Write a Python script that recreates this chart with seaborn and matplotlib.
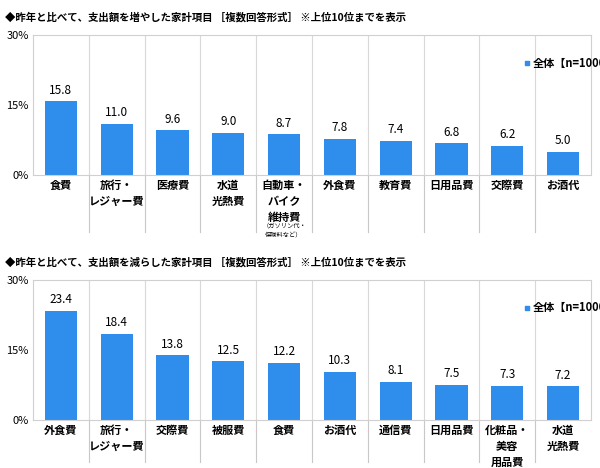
import matplotlib
matplotlib.use("Agg")
import matplotlib.pyplot as plt
import seaborn as sns
import pandas as pd

plt.rcParams["font.family"] = "Noto Sans CJK JP"

title1 = "◆昨年と比べて、支出額を増やした家計項目 ［複数回答形式］ ※上位10位までを表示"
title2 = "◆昨年と比べて、支出額を減らした家計項目 ［複数回答形式］ ※上位10位までを表示"
cats1 = ["食費", "旅行・\nレジャー費", "医療費", "水道\n光熱費", "自動車・\nバイク\n維持費", "外食費", "教育費", "日用品費", "交際費", "お酒代"]
vals1 = [15.8, 11.0, 9.6, 9.0, 8.7, 7.8, 7.4, 6.8, 6.2, 5.0]
cats2 = ["外食費", "旅行・\nレジャー費", "交際費", "被服費", "食費", "お酒代", "通信費", "日用品費", "化粧品・\n美容\n用品費", "水道\n光熱費"]
vals2 = [23.4, 18.4, 13.8, 12.5, 12.2, 10.3, 8.1, 7.5, 7.3, 7.2]
yticks = [0, 15, 30]
legend_label = "全体【n=1000】"
color = "#2F8EEB"

fig = plt.figure(figsize=(6, 4.68), dpi=100)
ax1 = fig.add_axes([0.055, 0.626, 0.93, 0.299])
ax2 = fig.add_axes([0.055, 0.103, 0.93, 0.299])

def draw(ax, cats, vals, title, sep_depth, note=False):
    df = pd.DataFrame({"cat": cats, "val": vals})
    sns.barplot(data=df, x="cat", y="val", ax=ax, color=color, width=0.58, saturation=1)
    ax.set_ylim(0, 30)
    ax.set_xlim(-0.5, len(cats) - 0.5)
    ax.set_yticks(yticks)
    ax.set_yticklabels([f"{t}%" for t in yticks], fontsize=8)
    ax.set_xlabel(""); ax.set_ylabel("")
    ax.tick_params(length=0, pad=3)
    ax.set_xticks(range(len(cats)))
    ax.set_xticklabels(cats, fontsize=8, fontweight="bold", va="top", linespacing=1.3)
    for s in ax.spines.values():
        s.set_color("#D0D0D0"); s.set_linewidth(0.8)
    for i, v in enumerate(vals):
        ax.text(i, v + 1.0, f"{v:.1f}", ha="center", va="bottom", fontsize=8.5)
    for i in range(1, len(cats)):
        ax.plot([i - 0.5, i - 0.5], [0, 1], transform=ax.get_xaxis_transform(), color="#D8D8D8", lw=0.8, zorder=0)
        ax.plot([i - 0.5, i - 0.5], [0, -sep_depth], transform=ax.get_xaxis_transform(), color="#C8C8C8", lw=0.8, clip_on=False)
    ax.text(-0.05, 1.09, title, transform=ax.transAxes, ha="left", va="bottom", fontsize=7.5, fontweight="bold")
    ax.scatter([0.885], [0.8], transform=ax.transAxes, marker="s", s=10, color=color)
    ax.text(0.895, 0.8, legend_label, transform=ax.transAxes, ha="left", va="center", fontsize=8, fontweight="bold")
    if note:
        ax.text(4, -0.33, "（ガソリン代・\n保険料など）", transform=ax.get_xaxis_transform(), ha="center", va="top", fontsize=4.5, linespacing=1.4)

draw(ax1, cats1, vals1, title1, 0.41, note=True)
draw(ax2, cats2, vals2, title2, 0.3)
fig.savefig("out.png", dpi=100)
